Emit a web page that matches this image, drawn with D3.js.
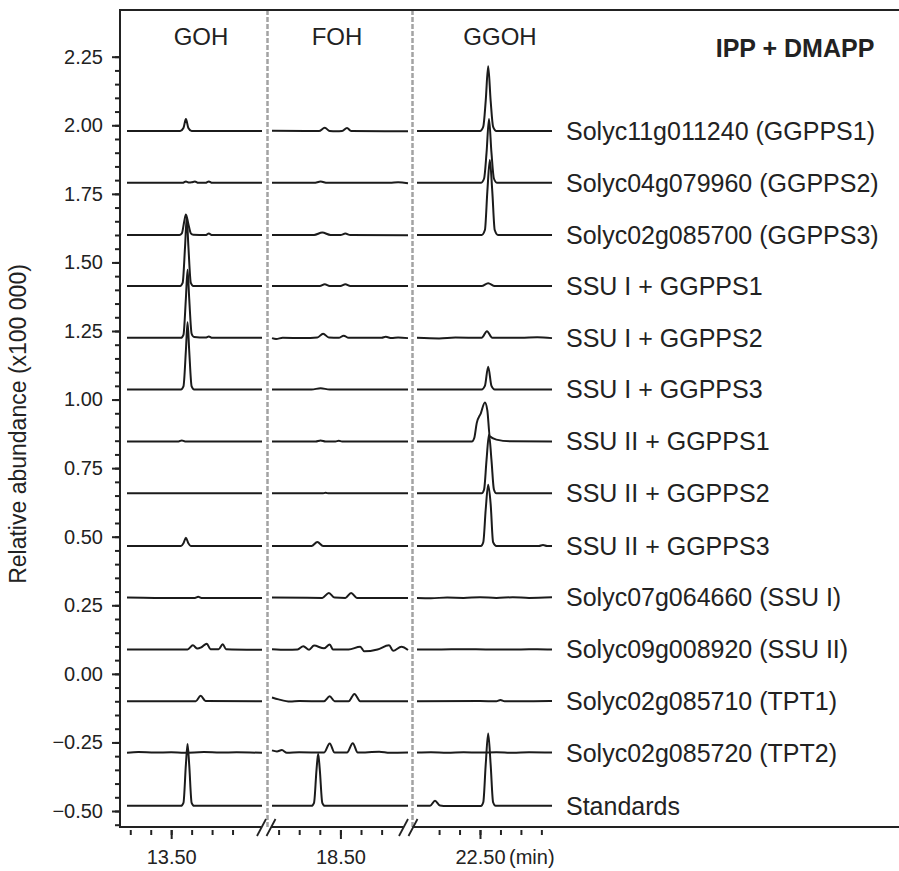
<!DOCTYPE html>
<html>
<head>
<meta charset="utf-8">
<script src="https://cdn.jsdelivr.net/npm/d3@7"></script>
<style>
  body { margin: 0; background: #fff; }
  text { font-family: "Liberation Sans", Arial, Helvetica, sans-serif; fill: #222; }
</style>
</head>
<body>
<div id="chart"></div>
<script>
"use strict";

/* Sample names, top to bottom */
var sampleLabels = [
    "Solyc11g011240 (GGPPS1)",
    "Solyc04g079960 (GGPPS2)",
    "Solyc02g085700 (GGPPS3)",
    "SSU I + GGPPS1",
    "SSU I + GGPPS2",
    "SSU I + GGPPS3",
    "SSU II + GGPPS1",
    "SSU II + GGPPS2",
    "SSU II + GGPPS3",
    "Solyc07g064660 (SSU I)",
    "Solyc09g008920 (SSU II)",
    "Solyc02g085710 (TPT1)",
    "Solyc02g085720 (TPT2)",
    "Standards"
];

/* Time windows (min) of the three cut-out regions */
var sectionNames = ["GOH", "FOH", "GGOH"];
var sectionDomains = [[12.96, 14.61], [17.67, 19.32], [21.73, 23.38]];
var sectionTicks = [
    [13.0, 13.25, 13.5, 13.75, 14.0, 14.25],
    [17.75, 18.0, 18.25, 18.5, 18.75, 19.0],
    [22.0, 22.25, 22.5, 22.75, 23.0, 23.25]
];
var sectionMajorTicks = [13.5, 18.5, 22.5];

var yTickValues = [-0.50, -0.25, 0.00, 0.25, 0.50, 0.75, 1.00, 1.25, 1.50, 1.75, 2.00, 2.25];

/* traces: [time (min), relative abundance (x100 000)] */
var gohTraces = [
    [[12.96,1.979],[13.61,1.979],[13.65,1.990],[13.68,2.023],[13.71,1.990],[13.75,1.979],[14.61,1.979]],
    [[12.96,1.790],[13.64,1.790],[13.68,1.795],[13.72,1.791],[13.75,1.792],[13.79,1.795],[13.83,1.790],[13.92,1.790],[13.96,1.795],[14.0,1.790],[14.61,1.790]],
    [[12.96,1.600],[13.60,1.600],[13.63,1.606],[13.66,1.650],[13.68,1.675],[13.71,1.640],[13.74,1.606],[13.77,1.601],[13.92,1.600],[13.96,1.605],[14.0,1.600],[14.61,1.600]],
    [[12.96,1.414],[13.61,1.414],[13.64,1.425],[13.67,1.560],[13.69,1.664],[13.71,1.560],[13.74,1.425],[13.77,1.414],[14.61,1.414]],
    [[12.96,1.225],[13.62,1.225],[13.65,1.236],[13.68,1.370],[13.70,1.473],[13.72,1.370],[13.75,1.240],[13.78,1.228],[13.92,1.226],[13.96,1.230],[14.0,1.225],[14.61,1.225]],
    [[12.96,1.037],[13.62,1.037],[13.65,1.048],[13.68,1.180],[13.70,1.282],[13.72,1.180],[13.75,1.048],[13.78,1.037],[14.61,1.037]],
    [[12.96,0.847],[13.59,0.847],[13.63,0.851],[13.67,0.847],[14.61,0.847]],
    [[12.96,0.658],[14.61,0.658]],
    [[12.96,0.466],[13.62,0.466],[13.65,0.476],[13.68,0.496],[13.71,0.476],[13.74,0.466],[14.61,0.466]],
    [[12.96,0.278],[13.30,0.277],[13.60,0.277],[13.79,0.277],[13.83,0.281],[13.87,0.277],[14.61,0.277]],
    [[12.96,0.089],[13.70,0.089],[13.765,0.104],[13.82,0.092],[13.87,0.097],[13.935,0.110],[13.98,0.090],[14.08,0.090],[14.13,0.108],[14.17,0.090],[14.61,0.088]],
    [[12.96,-0.100],[13.80,-0.100],[13.86,-0.080],[13.92,-0.099],[14.61,-0.100]],
    [[12.96,-0.288],[13.10,-0.285],[13.30,-0.287],[13.50,-0.286],[13.66,-0.288],[13.90,-0.285],[14.10,-0.287],[14.30,-0.286],[14.61,-0.288]],
    [[12.96,-0.481],[13.62,-0.481],[13.65,-0.470],[13.68,-0.330],[13.70,-0.256],[13.72,-0.330],[13.75,-0.470],[13.78,-0.481],[14.61,-0.481]]
];

var fohTraces = [
    [[17.67,1.980],[18.24,1.979],[18.31,1.991],[18.37,1.979],[18.45,1.978],[18.52,1.979],[18.58,1.990],[18.63,1.979],[19.32,1.978]],
    [[17.67,1.790],[18.18,1.790],[18.26,1.795],[18.34,1.790],[19.10,1.790],[19.20,1.792],[19.32,1.789]],
    [[17.67,1.600],[18.18,1.600],[18.28,1.609],[18.38,1.600],[18.50,1.600],[18.56,1.605],[18.62,1.600],[19.32,1.599]],
    [[17.67,1.414],[18.25,1.414],[18.31,1.420],[18.37,1.414],[18.50,1.414],[18.56,1.420],[18.62,1.414],[19.32,1.414]],
    [[17.67,1.224],[17.72,1.221],[17.80,1.225],[18.05,1.224],[18.22,1.226],[18.29,1.240],[18.36,1.226],[18.48,1.225],[18.54,1.233],[18.60,1.225],[19.00,1.225],[19.05,1.229],[19.12,1.224],[19.20,1.226],[19.32,1.224]],
    [[17.67,1.037],[18.15,1.037],[18.26,1.041],[18.37,1.037],[19.32,1.037]],
    [[17.67,0.847],[18.20,0.847],[18.26,0.851],[18.32,0.847],[18.44,0.847],[18.48,0.850],[18.52,0.847],[19.32,0.847]],
    [[17.67,0.658],[18.28,0.658],[18.32,0.660],[18.36,0.658],[19.32,0.658]],
    [[17.67,0.466],[18.15,0.466],[18.22,0.481],[18.29,0.466],[19.32,0.466]],
    [[17.67,0.278],[18.28,0.277],[18.36,0.295],[18.43,0.278],[18.56,0.277],[18.63,0.295],[18.70,0.277],[19.32,0.277]],
    [[17.67,0.090],[17.85,0.088],[17.98,0.089],[18.05,0.101],[18.12,0.088],[18.18,0.103],[18.30,0.093],[18.37,0.107],[18.41,0.089],[18.60,0.089],[18.74,0.099],[18.79,0.082],[18.95,0.089],[19.09,0.104],[19.14,0.084],[19.24,0.099],[19.32,0.087]],
    [[17.67,-0.086],[17.75,-0.093],[17.89,-0.101],[18.00,-0.099],[18.30,-0.100],[18.37,-0.082],[18.43,-0.100],[18.60,-0.100],[18.67,-0.073],[18.74,-0.100],[19.32,-0.100]],
    [[17.67,-0.279],[17.73,-0.283],[17.79,-0.278],[17.85,-0.288],[18.00,-0.286],[18.30,-0.287],[18.37,-0.254],[18.43,-0.287],[18.58,-0.287],[18.65,-0.253],[18.71,-0.287],[18.97,-0.284],[19.10,-0.288],[19.32,-0.287]],
    [[17.67,-0.481],[18.15,-0.481],[18.18,-0.470],[18.21,-0.350],[18.23,-0.291],[18.25,-0.350],[18.28,-0.470],[18.31,-0.481],[19.32,-0.481]]
];

var ggohTraces = [
    [[21.73,1.979],[22.50,1.979],[22.54,1.995],[22.57,2.090],[22.60,2.215],[22.63,2.090],[22.66,1.995],[22.70,1.979],[23.38,1.979]],
    [[21.73,1.790],[22.51,1.790],[22.55,1.806],[22.58,1.900],[22.61,2.023],[22.64,1.900],[22.67,1.806],[22.71,1.790],[23.38,1.790]],
    [[21.73,1.600],[22.52,1.600],[22.56,1.618],[22.59,1.760],[22.62,1.873],[22.65,1.760],[22.68,1.618],[22.72,1.600],[23.38,1.600]],
    [[21.73,1.414],[22.52,1.414],[22.60,1.424],[22.68,1.414],[23.38,1.414]],
    [[21.73,1.225],[22.00,1.223],[22.20,1.226],[22.52,1.225],[22.585,1.249],[22.65,1.225],[23.00,1.225],[23.20,1.227],[23.38,1.224]],
    [[21.73,1.037],[22.52,1.037],[22.56,1.050],[22.60,1.120],[22.64,1.050],[22.68,1.037],[23.38,1.037]],
    [[21.73,0.847],[22.40,0.847],[22.43,0.860],[22.46,0.914],[22.51,0.950],[22.56,0.989],[22.59,0.960],[22.62,0.866],[22.70,0.854],[22.87,0.848],[23.38,0.847]],
    [[21.73,0.658],[22.52,0.658],[22.55,0.672],[22.58,0.780],[22.61,0.873],[22.64,0.780],[22.67,0.672],[22.70,0.658],[23.38,0.658]],
    [[21.73,0.466],[22.51,0.466],[22.54,0.480],[22.57,0.600],[22.60,0.689],[22.63,0.620],[22.66,0.480],[22.70,0.466],[23.22,0.466],[23.27,0.470],[23.32,0.466],[23.38,0.466]],
    [[21.73,0.277],[21.90,0.276],[22.10,0.278],[22.30,0.277],[22.50,0.279],[22.70,0.277],[22.90,0.279],[23.10,0.277],[23.38,0.279]],
    [[21.73,0.089],[22.00,0.089],[22.30,0.090],[22.60,0.089],[23.00,0.089],[23.20,0.090],[23.38,0.089]],
    [[21.73,-0.100],[22.50,-0.099],[22.70,-0.100],[22.75,-0.095],[22.80,-0.100],[23.38,-0.099]],
    [[21.73,-0.287],[21.90,-0.286],[22.10,-0.288],[22.30,-0.286],[22.50,-0.287],[22.70,-0.286],[22.90,-0.288],[23.10,-0.286],[23.38,-0.287]],
    [[21.73,-0.481],[21.89,-0.481],[21.95,-0.463],[22.01,-0.480],[22.10,-0.482],[22.51,-0.482],[22.54,-0.468],[22.57,-0.330],[22.60,-0.217],[22.63,-0.330],[22.66,-0.468],[22.69,-0.481],[23.38,-0.481]]
];

var App = App || {};

(function() {

    App.start = function()
        {
            var svg_dx = 899,
                svg_dy = 871,
                axisX = 120,
                plotTop = 10,
                axisY = 827,
                sectionRanges = [[127, 262], [272, 408], [417, 552]],
                headerX = [201, 337, 500],
                separatorX = [267.5, 412.5],
                ink = "#222";

            var traces = [gohTraces, fohTraces, ggohTraces];

            var y = d3.scaleLinear().domain([-0.5, 2.25]).range([811, 56.7]);
            var fmt = d3.format(".2f");

            var svg = d3.select("#chart")
                    .append("svg")
                    .attr("width", svg_dx)
                    .attr("height", svg_dy);

            // dashed separators between the time windows
            separatorX.forEach(function(sx) {
                svg.append("line")
                    .attr("x1", sx).attr("x2", sx)
                    .attr("y1", plotTop).attr("y2", axisY)
                    .attr("stroke", "#a3a3a3")
                    .attr("stroke-width", 2.5)
                    .attr("stroke-dasharray", "5,2");
            });

            // frame: left axis, top line, broken bottom axis
            svg.append("line")
                .attr("x1", axisX).attr("x2", axisX)
                .attr("y1", plotTop - 1).attr("y2", axisY + 1)
                .attr("stroke", ink).attr("stroke-width", 2);
            svg.append("line")
                .attr("x1", axisX).attr("x2", svg_dx)
                .attr("y1", plotTop).attr("y2", plotTop)
                .attr("stroke", ink).attr("stroke-width", 2);

            [[axisX, 261.5], [271, 403.5], [412.5, svg_dx]].forEach(function(s) {
                svg.append("line")
                    .attr("x1", s[0]).attr("x2", s[1])
                    .attr("y1", axisY).attr("y2", axisY)
                    .attr("stroke", ink).attr("stroke-width", 2);
            });

            // break marks  //
            [[257, 266], [266.5, 275.5], [399, 408], [408.5, 417.5]].forEach(function(s) {
                svg.append("line")
                    .attr("x1", s[0]).attr("y1", axisY + 9)
                    .attr("x2", s[1]).attr("y2", axisY - 8)
                    .attr("stroke", ink).attr("stroke-width", 1.8);
            });

            // y axis ticks
            var yMinor = d3.range(-11, 46).map(function(k) { return k * 0.05; });

            svg.append("g")
                .attr("transform", "translate(" + axisX + ",0)")
                .call(d3.axisLeft(y).tickValues(yMinor).tickSize(5).tickFormat(""))
                .call(function(g) { g.select(".domain").remove(); })
                .selectAll("line").attr("stroke", ink).attr("stroke-width", 2);

            var axis_y = svg.append("g")
                .attr("id", "axis_y")
                .attr("transform", "translate(" + axisX + ",0)")
                .call(d3.axisLeft(y).tickValues(yTickValues).tickSize(8).tickPadding(9).tickFormat(fmt))
                .attr("font-size", 20);
            axis_y.select(".domain").remove();
            axis_y.selectAll("line").attr("stroke", ink).attr("stroke-width", 2);
            axis_y.selectAll("text").style("fill", ink);

            svg.append("text")
                .attr("transform", "translate(26,424) rotate(-90)")
                .attr("text-anchor", "middle")
                .attr("font-size", 23)
                .text("Relative abundance (x100 000)");

            // the three chromatogram windows
            sectionNames.forEach(function(name, i) {
                var x = d3.scaleLinear().domain(sectionDomains[i]).range(sectionRanges[i]);

                var minorAxis = svg.append("g")
                    .attr("transform", "translate(0," + (axisY + 3) + ")")
                    .call(d3.axisBottom(x).tickValues(sectionTicks[i]).tickSize(5).tickFormat(""));
                minorAxis.select(".domain").remove();
                minorAxis.selectAll("line").attr("stroke", ink).attr("stroke-width", 2);

                var majorAxis = svg.append("g")
                    .attr("class", "axis_x")
                    .attr("transform", "translate(0," + (axisY + 3) + ")")
                    .call(d3.axisBottom(x).tickValues([sectionMajorTicks[i]]).tickSize(9).tickPadding(11).tickFormat(fmt))
                    .attr("font-size", 20);
                majorAxis.select(".domain").remove();
                majorAxis.selectAll("line").attr("stroke", ink).attr("stroke-width", 2);
                majorAxis.selectAll("text").style("fill", ink);

                svg.append("text")
                    .attr("x", headerX[i])
                    .attr("y", 45)
                    .attr("text-anchor", "middle")
                    .attr("font-size", 24)
                    .text(name);

                var line = d3.line()
                    .x(function(d) { return x(d[0]); })
                    .y(function(d) { return y(d[1]); })
                    .curve(d3.curveMonotoneX);

                svg.append("g")
                    .selectAll("path")
                    .data(traces[i])
                    .enter()
                    .append("path")
                    .attr("d", line)
                    .attr("fill", "none")
                    .attr("stroke", "#1b1b1b")
                    .attr("stroke-width", 2)
                    .attr("stroke-linejoin", "round");
            });

            svg.append("text")
                .attr("x", 509)
                .attr("y", axisY + 3 + 9 + 11 + 14.2)
                .attr("font-size", 20)
                .text("(min)");

            // sample names on the right
            svg.append("g")
                .selectAll("text")
                .data(sampleLabels)
                .enter()
                .append("text")
                .attr("x", 566)
                .attr("y", function(d, i) { return y(gohTraces[i][0][1]); })
                .attr("dy", "0.35em")
                .attr("font-size", 25)
                .text(function(d) { return d; });

            svg.append("text")
                .attr("x", 795)
                .attr("y", 57)
                .attr("text-anchor", "middle")
                .attr("font-size", 25)
                .attr("font-weight", "bold")
                .text("IPP + DMAPP");
        };
    }) ();

App.start();
</script>
</body>
</html>
